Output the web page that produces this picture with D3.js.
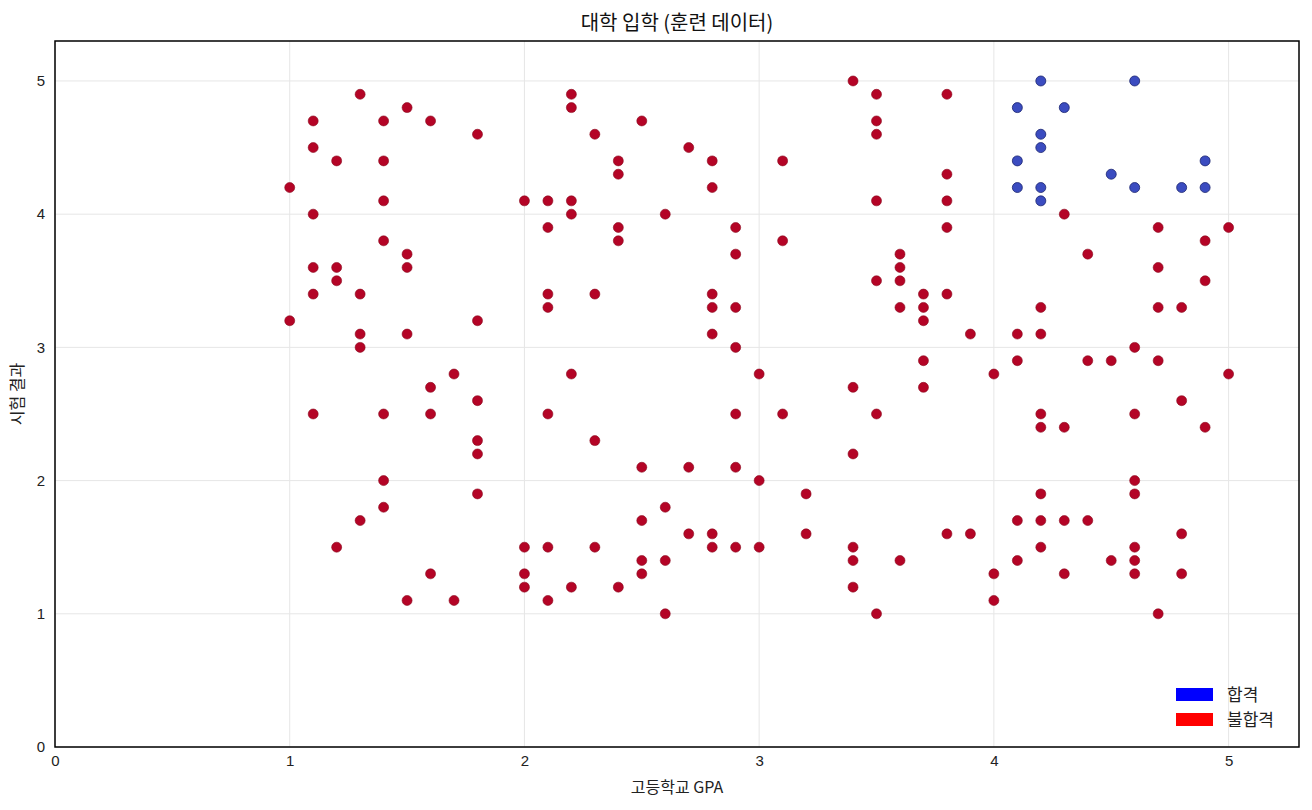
<!DOCTYPE html>
<html><head><meta charset="utf-8">
<script src="https://cdn.jsdelivr.net/npm/d3@7"></script>
<style>body{margin:0;background:#fff;font-family:"Noto Sans CJK KR","Liberation Sans",sans-serif;}</style>
</head><body><svg id="c" width="1312" height="810"></svg>
<script>
const passGPA  = [4.1,4.1,4.1,4.2,4.2,4.2,4.2,4.2,4.3,4.5,4.6,4.6,4.8,4.9,4.9];
const passExam = [4.8,4.4,4.2,5.0,4.6,4.5,4.2,4.1,4.8,4.3,5.0,4.2,4.2,4.4,4.2];
const failCols = [
 [1.0,[4.2,3.2]],[1.1,[4.7,4.5,4.0,3.6,3.4,2.5]],[1.2,[4.4,3.6,3.5,1.5]],
 [1.3,[4.9,3.4,3.1,3.0,1.7]],[1.4,[4.7,4.4,4.1,3.8,2.5,2.0,1.8]],[1.5,[4.8,3.7,3.6,3.1,1.1]],
 [1.6,[4.7,2.7,2.5,1.3]],[1.7,[2.8,1.1]],[1.8,[4.6,3.2,2.6,2.3,2.2,1.9]],
 [2.0,[4.1,1.5,1.3,1.2]],[2.1,[4.1,3.9,3.4,3.3,2.5,1.5,1.1]],[2.2,[4.9,4.8,4.1,4.0,2.8,1.2]],
 [2.3,[4.6,3.4,2.3,1.5]],[2.4,[4.4,4.3,3.9,3.8,1.2]],[2.5,[4.7,2.1,1.7,1.4,1.3]],
 [2.6,[4.0,1.8,1.4,1.0]],[2.7,[4.5,2.1,1.6]],[2.8,[4.4,4.2,3.4,3.3,3.1,1.6,1.5]],
 [2.9,[3.9,3.7,3.3,3.0,2.5,2.1,1.5]],[3.0,[2.8,2.0,1.5]],[3.1,[4.4,3.8,2.5]],[3.2,[1.9,1.6]],
 [3.4,[5.0,2.7,2.2,1.5,1.4,1.2]],[3.5,[4.9,4.7,4.6,4.1,3.5,2.5,1.0]],[3.6,[3.7,3.6,3.5,3.3,1.4]],
 [3.7,[3.4,3.3,3.2,2.9,2.7]],[3.8,[4.9,4.3,4.1,3.9,3.4,1.6]],[3.9,[3.1,1.6]],[4.0,[2.8,1.3,1.1]],
 [4.1,[3.1,2.9,1.7,1.4]],[4.2,[3.3,3.1,2.5,2.4,1.9,1.7,1.5]],[4.3,[4.0,2.4,1.7,1.3]],
 [4.4,[3.7,2.9,1.7]],[4.5,[2.9,1.4]],[4.6,[3.0,2.5,2.0,1.9,1.5,1.4,1.3]],
 [4.7,[3.9,3.6,3.3,2.9,1.0]],[4.8,[3.3,2.6,1.6,1.3]],[4.9,[3.8,3.5,2.4]],[5.0,[3.9,2.8]]
];
const ticks = [0,1,2,3,4,5];
const failPts = failCols.flatMap(([g,es])=>es.map(e=>[g,e]));
const passPts = passGPA.map((g,i)=>[g,passExam[i]]);

const svg = d3.select("#c");
const L=55,R=1299,T=41,B=747;
const x=d3.scaleLinear().domain([0,5.3]).range([L,R]);
const y=d3.scaleLinear().domain([0,5.3]).range([B,T]);
const g=svg.append("g");
g.selectAll(".gx").data(ticks).join("line").attr("x1",d=>x(d)).attr("x2",d=>x(d)).attr("y1",T).attr("y2",B).attr("stroke","#e6e6e6");
g.selectAll(".gy").data(ticks).join("line").attr("y1",d=>y(d)).attr("y2",d=>y(d)).attr("x1",L).attr("x2",R).attr("stroke","#e6e6e6");
svg.append("g").attr("transform",`translate(0,${B})`).call(d3.axisBottom(x).tickValues(ticks).tickFormat(d3.format("d")).tickSize(0).tickPadding(8))
  .call(a=>{a.select(".domain").remove();a.selectAll("text").attr("font-size",15).attr("fill","#222").attr("font-family","Liberation Sans, sans-serif");});
svg.append("g").attr("transform",`translate(${L},0)`).call(d3.axisLeft(y).tickValues(ticks).tickFormat(d3.format("d")).tickSize(0).tickPadding(10))
  .call(a=>{a.select(".domain").remove();a.selectAll("text").attr("font-size",15).attr("fill","#222").attr("font-family","Liberation Sans, sans-serif");});
svg.append("g").selectAll("circle").data(failPts).join("circle").attr("cx",d=>x(d[0])).attr("cy",d=>y(d[1])).attr("r",5)
  .attr("fill","#b40426").attr("stroke","#8a0a1e").attr("stroke-width",0.6);
svg.append("g").selectAll("circle").data(passPts).join("circle").attr("cx",d=>x(d[0])).attr("cy",d=>y(d[1])).attr("r",5)
  .attr("fill","#3b4cc0").attr("stroke","#1a2470").attr("stroke-width",0.8);
svg.append("rect").attr("x",L).attr("y",T).attr("width",R-L).attr("height",B-T).attr("fill","none").attr("stroke","#000").attr("stroke-width",1.5);
svg.append("text").attr("x",(L+R)/2).attr("y",30).attr("text-anchor","middle").attr("font-size",20).attr("fill","#111").text("대학 입학 (훈련 데이터)");
svg.append("text").attr("x",(L+R)/2).attr("y",793).attr("text-anchor","middle").attr("font-size",16).attr("fill","#222").text("고등학교 GPA");
svg.append("text").attr("transform",`translate(23,${(T+B)/2}) rotate(-90)`).attr("text-anchor","middle").attr("font-size",16).attr("fill","#222").text("시험 결과");
const leg=[["합격","#0000ff"],["불합격","#ff0000"]];
leg.forEach((d,i)=>{
  svg.append("rect").attr("x",1176).attr("y",688+i*25).attr("width",37).attr("height",13).attr("fill",d[1]);
  svg.append("text").attr("x",1227).attr("y",701+i*25).attr("font-size",17).attr("fill","#222").text(d[0]);
});
</script></body></html>
